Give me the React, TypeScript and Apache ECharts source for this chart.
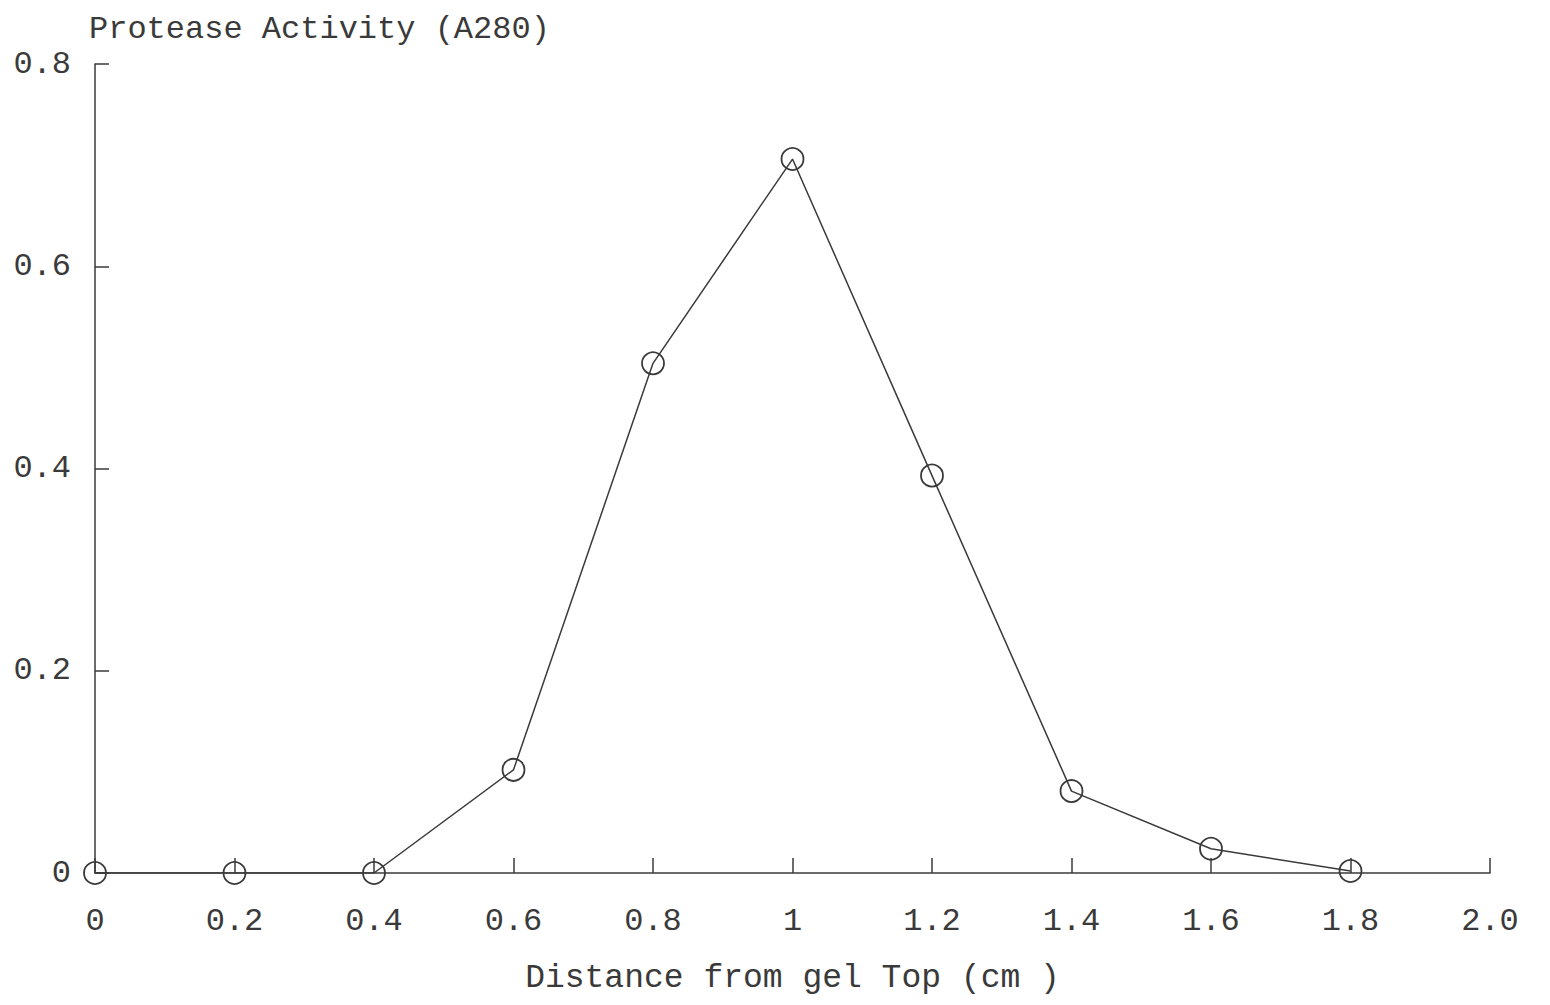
import React, { useEffect, useRef } from "react";
import * as echarts from "echarts";

const distances = [0, 0.2, 0.4, 0.6, 0.8, 1.0, 1.2, 1.4, 1.6, 1.8];
const activity = [0, 0, 0, 0.102, 0.504, 0.706, 0.393, 0.081, 0.024, 0.002];
const xTitle = "Distance from gel Top (cm )";
const yTitle = "Protease Activity (A280)";

const FONT = "Liberation Mono";
const INK = "#3a3a3a";

export default function App() {
  const ref = useRef<HTMLDivElement>(null);
  useEffect(() => {
    const chart = echarts.init(ref.current!, null, { renderer: "svg" });
    const fmt = (v: number) => {
      const r = Math.round(v * 10) / 10;
      if (r === 2) return "2.0";
      return String(r);
    };
    chart.setOption({
      animation: false,
      backgroundColor: "#ffffff",
      grid: {
        left: 87,
        right: 52,
        top: 56,
        bottom: 124,
        containLabel: false,
        outerBoundsMode: "none",
      },
      xAxis: {
        type: "value",
        min: 0,
        max: 2,
        interval: 0.2,
        name: xTitle,
        nameLocation: "middle",
        nameGap: 88,
        nameTextStyle: { fontFamily: FONT, fontSize: 33, lineHeight: 34, color: INK },
        axisLine: { show: true, lineStyle: { color: INK, width: 1.5 } },
        axisTick: { show: true, inside: true, length: 15, lineStyle: { color: INK, width: 1.5 } },
        axisLabel: { fontFamily: FONT, fontSize: 32, color: INK, margin: 32, formatter: fmt },
        splitLine: { show: false },
      },
      yAxis: {
        type: "value",
        min: 0,
        max: 0.8,
        interval: 0.2,
        name: yTitle,
        nameLocation: "end",
        nameGap: 18,
        nameTextStyle: { fontFamily: FONT, fontSize: 32, lineHeight: 34, color: INK, align: "left", padding: [0, 0, 0, -6] },
        axisLine: { show: true, lineStyle: { color: INK, width: 1.5 } },
        axisTick: { show: true, inside: true, length: 14, lineStyle: { color: INK, width: 1.5 } },
        axisLabel: { fontFamily: FONT, fontSize: 32, color: INK, margin: 24, formatter: fmt },
        splitLine: { show: false },
      },
      series: [
        {
          type: "line",
          data: distances.map((d, i) => [d, activity[i]]),
          symbol: "circle",
          symbolSize: 22,
          showAllSymbol: true,
          lineStyle: { color: INK, width: 1.5 },
          itemStyle: { color: "rgba(0,0,0,0)", borderColor: INK, borderWidth: 1.8 },
          z: 3,
        },
      ],
    });
    return () => chart.dispose();
  }, []);
  return <div ref={ref} style={{ width: 1534, height: 989 }} />;
}
